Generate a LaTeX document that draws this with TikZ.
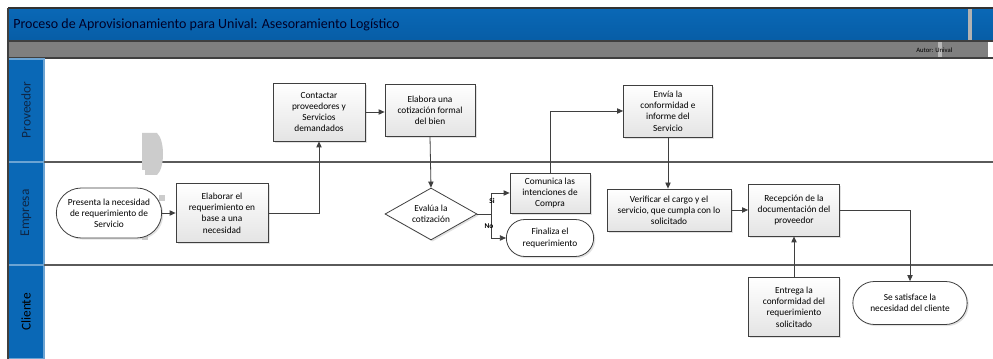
\documentclass[tikz,border=0pt]{standalone}
\usepackage{fontspec}
\setmainfont{Carlito}
\usetikzlibrary{shapes.geometric,shapes.misc,arrows.meta,shadows}

\definecolor{hdrblue}{HTML}{0A68B6}
\definecolor{hdrblueb}{HTML}{075DA6}
\definecolor{lanetxt}{HTML}{0E2747}
\definecolor{sepgray}{HTML}{5A5A5A}
\definecolor{edgegray}{HTML}{3F3F3F}
\definecolor{barGray}{HTML}{7F7F7F}
\definecolor{boxbot}{HTML}{E4E4E4}

\tikzset{
  boxtxt/.style={font=\fontsize{7}{8.4}\selectfont, align=center},
  proc/.style={boxtxt, draw=edgegray, line width=0.6pt, top color=white, bottom color=boxbot,
    drop shadow={shadow xshift=1.2pt, shadow yshift=-1.2pt, fill=black!22},
    inner sep=1pt},
  term/.style={proc, rounded rectangle, top color=white, bottom color=white},
  decision/.style={proc, diamond, aspect=1.8, inner sep=0pt, top color=white, bottom color=white},
  conn/.style={draw=edgegray, line width=0.6pt, -{Triangle[length=4.5pt,width=4pt]}},
  plainline/.style={draw=edgegray, line width=0.6pt},
  lanesep/.style={draw=sepgray, line width=1.4pt},
  lanehead/.style={fill=hdrblue, draw=hdrblue!60!white, line width=0.8pt},
  lanelabel/.style={rotate=90, font=\fontsize{10}{12}\selectfont, text=lanetxt},
  branchlbl/.style={font=\bfseries\fontsize{5.5}{6}\selectfont, inner sep=0pt}
}

\begin{document}
\begin{tikzpicture}[x=0.75pt, y=-0.75pt]
  \useasboundingbox (0,0) rectangle (993,359);
  \fill[white] (0,0) rectangle (993,359);

  % title bar and sub bar
  \fill[top color=hdrblue, bottom color=hdrblueb] (8,8) rectangle (993,41);
  \draw[edgegray!80!black, line width=0.8pt] (8,8) -- (993,8);
  \fill[gray!60] (968,9) rectangle (972,41);
  \node[anchor=west, inner sep=0pt, font=\fontsize{10.5}{12}\selectfont, text=black!85!blue]
    (title) at (13,25) {Proceso de Aprovisionamiento para Unival: Asesoramiento Logístico};
  \fill[barGray] (8,41) rectangle (988,58);
  \fill[gray!55] (938,42) rectangle (942,58);
  \draw[sepgray!70!black, line width=0.8pt] (8,41) -- (993,41);
  \draw[sepgray!70!black, line width=0.8pt] (8,58) -- (993,58);
  \node[anchor=west, inner sep=0pt, font=\fontsize{5}{6}\selectfont]
    (author) at (916,50) {Autor: Unival};

  % lane headers
  \path[lanehead] (8,59) rectangle (44,162);
  \path[lanehead] (8,162) rectangle (44,265);
  \path[lanehead] (8,265) rectangle (44,359);
  \node[lanelabel] (lprov) at (26,110) {Proveedor};
  \node[lanelabel] (lemp) at (26,213) {Empresa};
  \node[lanelabel, text=black] (lcli) at (26,312) {Cliente};
  \draw[edgegray, line width=1pt] (8,8) -- (8,359);

  % lane separators
  \draw[lanesep] (44,162) -- (993,162);
  \draw[lanesep] (44,265) -- (993,265);

  % stray grey marks
  \fill[gray!40] (142,133) -- (157,133) .. controls (165,140) and (165,168) .. (157,175) -- (145,175) -- (145,170) -- (142,170) -- cycle;
  \fill[gray!40] (159,195) rectangle (165,201);
  \fill[gray!40] (142,234) rectangle (148,240);

  % nodes
  \node[term, minimum width=81pt, minimum height=37.5pt] (start) at (109,213)
    {Presenta la necesidad\\de requerimiento de\\Servicio};
  \node[proc, minimum width=69pt, minimum height=44.25pt] (elab) at (222,213)
    {Elaborar el\\requerimiento en\\base a una\\necesidad};
  \node[proc, minimum width=69pt, minimum height=43.5pt] (contact) at (319,112)
    {Contactar\\proveedores y\\Servicios\\demandados};
  \node[proc, minimum width=67.5pt, minimum height=39pt] (cotiz) at (430,110)
    {Elabora una\\cotización formal\\del bien};
  \node[decision, minimum width=69pt, minimum height=39pt] (dec) at (431,214)
    {Evalúa la\\cotización};
  \node[proc, minimum width=60pt, minimum height=30pt] (comu) at (550,193)
    {Comunica las\\intenciones de\\Compra};
  \node[term, minimum width=67.5pt, minimum height=27.75pt] (fin) at (550,238)
    {Finaliza el\\requerimiento};
  \node[proc, minimum width=66.75pt, minimum height=39pt] (envia) at (668,111)
    {Envía la\\conformidad e\\informe del\\Servicio};
  \node[proc, minimum width=93pt, minimum height=31.5pt] (verif) at (669,210)
    {Verificar el cargo y el\\servicio, que cumpla con lo\\solicitado};
  \node[proc, minimum width=68.25pt, minimum height=39pt] (recep) at (794,210)
    {Recepción de la\\documentación del\\proveedor};
  \node[proc, minimum width=68.25pt, minimum height=44.25pt] (entrega) at (794,307)
    {Entrega la\\conformidad del\\requerimiento\\solicitado};
  \node[term, minimum width=87.75pt, minimum height=32.25pt] (endn) at (910,303)
    {Se satisface la\\necesidad del cliente};

  % connectors
  \draw[conn] (start.east) -- (elab.west);
  \draw[conn] (elab.east) -| (contact.south);
  \draw[conn] (contact.east) -- (contact.east -| cotiz.west);
  \draw[conn] (cotiz.south) -- (dec.north);
  \coordinate (split) at (491,214);
  \draw[plainline] (dec.east) -- (split);
  \draw[conn] (split) |- (comu.west);
  \draw[conn] (split) |- (fin.west);
  \node[branchlbl] (si) at (492,201) {Si};
  \node[branchlbl] (no) at (489,226) {No};
  \draw[conn] (comu.north) |- (envia.west);
  \draw[conn] (envia.south) -- (envia.south |- verif.north);
  \draw[conn] (verif.east) -- (recep.west);
  \draw[conn] (recep.east) -| (endn.north);
  \draw[conn] (entrega.north) -- (recep.south);
\end{tikzpicture}
\end{document}
